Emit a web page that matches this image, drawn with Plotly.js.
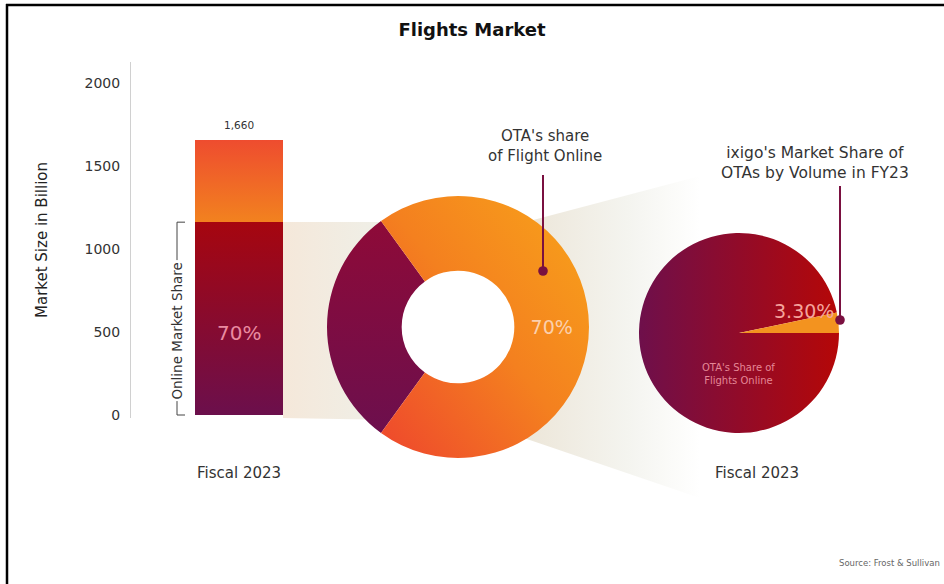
<!DOCTYPE html>
<html><head><meta charset="utf-8">
<script src="https://cdn.plot.ly/plotly-3.0.1.min.js"></script>
<style>html,body{margin:0;padding:0;background:#fff;} #chart{width:944px;height:584px;}</style>
</head><body><div id="chart"></div>
<script>
// ---------- data ----------
const years = ["Fiscal 2023"];
const marketTotal = [1660];
const onlineShare = [0.70];
const totalLabels = ["1,660"];
const onlineLabels = ["70%"];
const bracketLabel = "Online Market Share";
const yTicks = [0, 500, 1000, 1500, 2000];

const donutLabels = ["Other online", "OTA's share of Flight Online"];
const donutValues = [30, 70];
const donutText = ["", "70%"];
const donutCaption = "OTA's share<br>of Flight Online";

const pieLabels = ["OTA's Share of Flights Online", "ixigo"];
const pieValues = [96.7, 3.3];
const pieText = ["OTA's Share of<br>Flights Online", "3.30%"];
const pieCaption = "ixigo's Market Share of<br>OTAs by Volume in FY23";
const pieYear = ["Fiscal 2023"];
const sourceText = "Source: Frost &amp; Sullivan";

// ---------- helpers ----------
const W = 944, H = 584;
const px = x => x / W, py = y => 1 - y / H;
const FONT = "'DejaVu Sans', Lato, sans-serif";

const online = marketTotal.map((t, i) => t * onlineShare[i]);
const offline = marketTotal.map((t, i) => t - online[i]);

const traces = [
  {type: 'bar', x: years, y: online, marker: {color: '#8a0a30', line: {width: 0}}, hoverinfo: 'none', name: 'Online'},
  {type: 'bar', x: years, y: offline, marker: {color: '#f06a28', line: {width: 0}}, hoverinfo: 'none', name: 'Offline'},
  {type: 'pie', labels: donutLabels, values: donutValues, sort: false, direction: 'counterclockwise', rotation: 216,
   hole: 0.43, domain: {x: [px(327), px(589)], y: [py(458), py(196)]},
   marker: {colors: ['#7d0c44', '#f5841f'], line: {width: 0}},
   text: donutText, textinfo: 'text', textposition: 'inside', insidetextorientation: 'horizontal',
   textfont: {size: 19, color: '#fbd0ad', family: FONT}, hoverinfo: 'none', showlegend: false},
  {type: 'pie', labels: pieLabels, values: pieValues, sort: false, direction: 'clockwise', rotation: 90,
   domain: {x: [px(639), px(839)], y: [py(433), py(233)]},
   marker: {colors: ['#9a0a1e', '#f3931f'], line: {width: 0}},
   textinfo: 'none', hoverinfo: 'none', showlegend: false}
];

const C = {xanchor: 'center', yanchor: 'middle', showarrow: false};
const ann = [
  {xref: 'x', yref: 'y', x: years[0], y: marketTotal[0], text: totalLabels[0], showarrow: false, xanchor: 'center', yanchor: 'bottom', yshift: 7,
   font: {size: 10.5, color: '#333'}},
  {...C, xref: 'x', yref: 'y', x: years[0], y: online[0] / 2, text: onlineLabels[0], yshift: -14,
   font: {size: 20, color: '#ea8aa0'}},
  {...C, xref: 'paper', yref: 'y', x: px(177), y: online[0] / 2, text: bracketLabel, yshift: -12, textangle: -90,
   bgcolor: '#ffffff', borderpad: 1, font: {size: 13.5, color: '#333'}},
  {...C, xref: 'x', yref: 'paper', x: years[0], y: py(473), text: years[0], font: {size: 15, color: '#333'}},
  {...C, xref: 'paper', yref: 'paper', x: px(757), y: py(473), text: pieYear[0], font: {size: 15, color: '#333'}},
  {...C, xref: 'paper', yref: 'paper', x: px(545), y: py(146), text: donutCaption, font: {size: 15, color: '#333'}},
  {...C, xref: 'paper', yref: 'paper', x: px(815), y: py(163), text: pieCaption, font: {size: 15.5, color: '#333'}},
  {...C, xref: 'paper', yref: 'paper', x: px(804), y: py(311), text: pieText[1], font: {size: 19, color: '#f5a49c'}},
  {...C, xref: 'paper', yref: 'paper', x: px(738), y: py(374), text: pieText[0], font: {size: 10, color: '#e58796'}},
  {xref: 'paper', yref: 'paper', x: px(942), y: py(563), xanchor: 'right', yanchor: 'middle', text: sourceText, showarrow: false,
   font: {size: 8.5, color: '#666'}},
  // callout lines with dot heads
  {xref: 'paper', yref: 'paper', x: px(543), y: py(271), ax: 0, ay: -98, text: ' ', font: {size: 1},
   showarrow: true, arrowhead: 6, arrowsize: 1.2, arrowwidth: 2, arrowcolor: '#7a1040'},
  {xref: 'paper', yref: 'paper', x: px(840), y: py(320), ax: 0, ay: -136, text: ' ', font: {size: 1},
   showarrow: true, arrowhead: 6, arrowsize: 1.2, arrowwidth: 2, arrowcolor: '#7a1040'}
];

const shapes = [
  // connectors (below traces)
  {type: 'path', layer: 'below', xref: 'paper', yref: 'paper',
   path: `M${px(283)},${py(222)} L${px(395)},${py(222)} L${px(395)},${py(420)} L${px(283)},${py(418)} Z`,
   fillcolor: '#f3ece2', line: {width: 0}},
  {type: 'path', layer: 'below', xref: 'paper', yref: 'paper',
   path: `M${px(518)},${py(224)} L${px(700)},${py(176)} L${px(700)},${py(498)} L${px(518)},${py(436)} Z`,
   fillcolor: '#f3efe7', line: {width: 0}},
  // bracket
  {type: 'line', xref: 'paper', yref: 'y', x0: px(177), x1: px(177), y0: 0, y1: online[0], line: {color: '#444', width: 1}},
  {type: 'line', xref: 'paper', yref: 'y', x0: px(177), x1: px(185), y0: online[0], y1: online[0], line: {color: '#444', width: 1}},
  {type: 'line', xref: 'paper', yref: 'y', x0: px(177), x1: px(185), y0: 0, y1: 0, line: {color: '#444', width: 1}},
  // frame
  {type: 'line', xref: 'paper', yref: 'paper', x0: px(7), x1: px(7), y0: py(4), y1: 0, line: {color: '#000', width: 2.5}},
  {type: 'line', xref: 'paper', yref: 'paper', x0: px(6), x1: 1, y0: py(5), y1: py(5), line: {color: '#000', width: 2.5}}
];

const layout = {
  width: W, height: H, margin: {l: 0, r: 0, t: 0, b: 0},
  paper_bgcolor: '#ffffff', plot_bgcolor: 'rgba(0,0,0,0)',
  font: {family: FONT, color: '#333'},
  showlegend: false, barmode: 'stack', bargap: 0,
  title: {text: 'Flights Market', x: px(472), xanchor: 'center', xref: 'paper', y: py(30), yref: 'paper', yanchor: 'middle',
          font: {size: 18, weight: 700, color: '#111', family: FONT}},
  xaxis: {domain: [px(195), px(283)], range: [-0.5, 0.5], visible: false, fixedrange: true},
  yaxis: {domain: [py(418), py(62)], range: [-18, 2127], anchor: 'free', position: px(130),
          showline: true, linecolor: '#d0d0d0', linewidth: 1, showgrid: false, zeroline: false,
          tickvals: yTicks, ticks: 'outside', ticklen: 7, tickcolor: 'rgba(0,0,0,0)',
          tickfont: {size: 14, color: '#333'},
          title: {text: 'Market Size in Billion', font: {size: 15, color: '#222'}, standoff: 32}, fixedrange: true},
  annotations: ann, shapes: shapes
};

const gd = document.getElementById('chart');
Plotly.newPlot(gd, traces, layout, {staticPlot: true, displayModeBar: false}).then(() => {
  const NS = 'http://www.w3.org/2000/svg';
  const svg = gd.querySelector('svg.main-svg');
  const defs = svg.querySelector('defs') || svg.appendChild(document.createElementNS(NS, 'defs'));
  function grad(id, x1, y1, x2, y2, stops) {
    const g = document.createElementNS(NS, 'linearGradient');
    g.setAttribute('id', id);
    g.setAttribute('x1', x1); g.setAttribute('y1', y1); g.setAttribute('x2', x2); g.setAttribute('y2', y2);
    stops.forEach(([o, c]) => {
      const s = document.createElementNS(NS, 'stop');
      s.setAttribute('offset', o); s.setAttribute('stop-color', c);
      g.appendChild(s);
    });
    defs.appendChild(g);
    return `url(#${id})`;
  }
  const gOnline = grad('gOnline', 0, 1, 0, 0, [[0, '#6b0f4c'], [1, '#a6060f']]);
  const gOffline = grad('gOffline', 0, 1, 0, 0, [[0, '#f2821f'], [1, '#ee4c2f']]);
  const gDPurple = grad('gDPurple', 0, 0, 0, 1, [[0, '#8e0a38'], [1, '#6c0f4d']]);
  const gDOrange = grad('gDOrange', 1, 0, 0, 1, [[0, '#f8a41a'], [0.5, '#f4801f'], [1, '#ee462d']]);
  const gPie = grad('gPie', 0, 0, 1, 0, [[0, '#6e0f4b'], [1, '#b50707']]);
  const gCon1 = grad('gCon1', 0, 0, 1, 0, [[0, '#f5e8da'], [1, '#eef0e9']]);
  const gCon2 = grad('gCon2', 0, 0, 1, 0, [[0, '#ece5d7'], [0.6, '#f4f4ef'], [1, '#ffffff']]);

  const barTraces = gd.querySelectorAll('.barlayer .trace');
  if (barTraces[0]) barTraces[0].querySelectorAll('path').forEach(p => p.style.fill = gOnline);
  if (barTraces[1]) barTraces[1].querySelectorAll('path').forEach(p => p.style.fill = gOffline);
  const pieTraces = gd.querySelectorAll('.pielayer .trace');
  if (pieTraces[0]) {
    const s = pieTraces[0].querySelectorAll('.slice path.surface');
    if (s[0]) s[0].style.fill = gDPurple;
    if (s[1]) s[1].style.fill = gDOrange;
  }
  if (pieTraces[1]) {
    const s = pieTraces[1].querySelectorAll('.slice path.surface');
    if (s[0]) s[0].style.fill = gPie;
  }
  const c1 = gd.querySelector('.shapelayer path[data-index="0"]');
  const c2 = gd.querySelector('.shapelayer path[data-index="1"]');
  if (c1) c1.style.fill = gCon1;
  if (c2) c2.style.fill = gCon2;
});
</script>
</body></html>
